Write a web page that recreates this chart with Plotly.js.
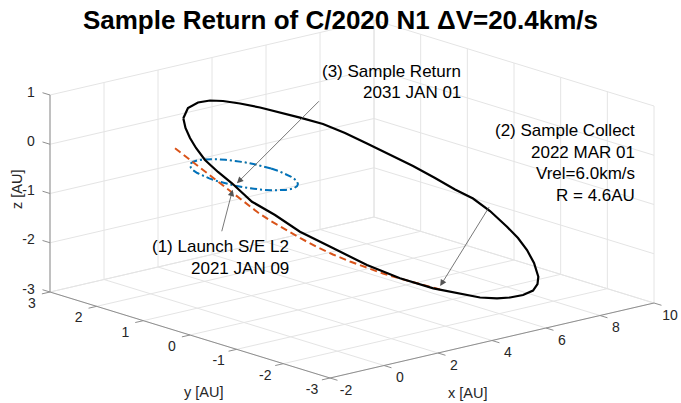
<!DOCTYPE html>
<html><head><meta charset="utf-8">
<script src="https://cdn.plot.ly/plotly-3.0.1.min.js"></script>
<style>html,body{margin:0;padding:0;background:#fff;} #chart{width:681px;height:403px;}</style>
</head><body><div id="chart"></div>
<script>
// ---------------- DATA (AU) ----------------
// Transfer orbit (black)
const transferX = [-0.096,0.604,1.319,1.960,2.527,3.182,3.903,4.585,5.241,5.989,6.565,7.069,7.573,8.100,8.534,8.901,9.295,9.478,9.509,9.476,9.319,9.023,8.573,8.191,7.680,7.013,6.303,5.674,4.939,4.227,3.249,2.206,1.333,0.590,-0.142,-0.490,-0.908,-0.950,-1.053,-1.078,-0.920,-0.721,-0.454,-0.096];
const transferY = [1.245,1.550,1.749,1.862,1.912,1.927,1.915,1.882,1.832,1.772,1.634,1.455,1.253,1.065,0.844,0.628,0.470,0.212,-0.134,-0.389,-0.673,-0.994,-1.347,-1.550,-1.750,-1.922,-2.053,-2.139,-2.200,-2.183,-2.177,-2.066,-1.864,-1.573,-1.282,-0.948,-0.697,-0.292,-0.052,0.212,0.496,0.740,0.991,1.245];
const transferZ = [0.796,0.828,0.791,0.717,0.620,0.483,0.313,0.139,-0.039,-0.246,-0.461,-0.686,-0.925,-1.161,-1.395,-1.612,-1.799,-2.001,-2.223,-2.374,-2.515,-2.648,-2.767,-2.807,-2.817,-2.773,-2.695,-2.607,-2.479,-2.309,-2.085,-1.781,-1.459,-1.111,-0.765,-0.480,-0.230,0.032,0.205,0.375,0.516,0.622,0.718,0.796];
// Comet C/2020 N1 trajectory (orange)
const cometX = [-1.889,-1.760,-1.621,-1.482,-1.362,-1.243,-1.145,-0.977,-0.720,-0.439,-0.113,0.283,0.725,1.191,1.660,2.197,2.667,3.071,3.497];
const cometY = [0.385,0.139,-0.102,-0.343,-0.552,-0.762,-0.963,-1.123,-1.295,-1.454,-1.608,-1.743,-1.852,-1.946,-2.018,-2.072,-2.121,-2.145,-2.177];
const cometZ = [0.665,0.482,0.302,0.120,-0.037,-0.194,-0.341,-0.478,-0.643,-0.805,-0.975,-1.148,-1.315,-1.478,-1.629,-1.783,-1.919,-2.025,-2.141];
// Earth orbit (1 AU, ecliptic)
const earthX = [1,0.985,0.940,0.866,0.766,0.643,0.5,0.342,0.174,0,-0.174,-0.342,-0.5,-0.643,-0.766,-0.866,-0.940,-0.985,-1,-0.985,-0.940,-0.866,-0.766,-0.643,-0.5,-0.342,-0.174,0,0.174,0.342,0.5,0.643,0.766,0.866,0.940,0.985,1];
const earthY = [0,0.174,0.342,0.5,0.643,0.766,0.866,0.940,0.985,1,0.985,0.940,0.866,0.766,0.643,0.5,0.342,0.174,0,-0.174,-0.342,-0.5,-0.643,-0.766,-0.866,-0.940,-0.985,-1,-0.985,-0.940,-0.866,-0.766,-0.643,-0.5,-0.342,-0.174,0];
const earthZ = [0,0,0,0,0,0,0,0,0,0,0,0,0,0,0,0,0,0,0,0,0,0,0,0,0,0,0,0,0,0,0,0,0,0,0,0,0];
// Event points
const launchPt = [-1.05,-0.38,0.0];
const collectPt = [3.42,-2.18,-2.13];
// Axis ranges and ticks
const xRange = [-2,10], yRange = [-3,3], zRange = [-3,1];
const xTicks = [-2,0,2,4,6,8,10];
const yTicks = [-3,-2,-1,0,1,2,3];
const zTicks = [-3,-2,-1,0,1];

// ---------------- 3D -> screen projection (MATLAB view, stretch-to-fill) ----------------
const ORIGIN = [330, 378];                 // screen px of (xmin, ymin, zmin)
const EX = [27.0, -6.25];                  // px per AU along x
const EY = [-46.667, -14.333];             // px per AU along y
const EZ = [0, -49.25];                    // px per AU along z
function P(x, y, z) {
  const dx = x - xRange[0], dy = y - yRange[0], dz = z - zRange[0];
  return [ORIGIN[0] + EX[0]*dx + EY[0]*dy + EZ[0]*dz,
          ORIGIN[1] + EX[1]*dx + EY[1]*dy + EZ[1]*dz];
}
function projLine(xs, ys, zs) {
  const u = [], v = [];
  for (let i = 0; i < xs.length; i++) { const p = P(xs[i], ys[i], zs[i]); u.push(p[0]); v.push(p[1]); }
  return {u, v};
}
function segs(list) { // list of [[x,y,z],[x,y,z]]
  const u = [], v = [];
  list.forEach(s => { const a = P(...s[0]), b = P(...s[1]); u.push(a[0], b[0], null); v.push(a[1], b[1], null); });
  return {u, v};
}

// grid on back planes: floor z=zmin, wall y=ymax, wall x=xmax
const gridList = [];
xTicks.forEach(t => { gridList.push([[t, yRange[0], zRange[0]], [t, yRange[1], zRange[0]]]);
                      gridList.push([[t, yRange[1], zRange[0]], [t, yRange[1], zRange[1]]]); });
yTicks.forEach(t => { gridList.push([[xRange[0], t, zRange[0]], [xRange[1], t, zRange[0]]]);
                      gridList.push([[xRange[1], t, zRange[0]], [xRange[1], t, zRange[1]]]); });
zTicks.forEach(t => { gridList.push([[xRange[0], yRange[1], t], [xRange[1], yRange[1], t]]);
                      gridList.push([[xRange[1], yRange[0], t], [xRange[1], yRange[1], t]]); });
const grid = segs(gridList);

// axis lines + tick marks
const axisList = [
  [[xRange[0], yRange[0], zRange[0]], [xRange[1], yRange[0], zRange[0]]],
  [[xRange[0], yRange[0], zRange[0]], [xRange[0], yRange[1], zRange[0]]],
  [[xRange[0], yRange[1], zRange[0]], [xRange[0], yRange[1], zRange[1]]]
];
xTicks.forEach(t => axisList.push([[t, yRange[0], zRange[0]], [t, yRange[0] - 0.16, zRange[0]]]));
yTicks.forEach(t => axisList.push([[xRange[0], t, zRange[0]], [xRange[0] - 0.3, t, zRange[0]]]));
zTicks.forEach(t => axisList.push([[xRange[0], yRange[1], t], [xRange[0], yRange[1] + 0.16, t]]));
const axes = segs(axisList);

// tick labels
const tl = {u:[], v:[], t:[]};
xTicks.forEach(t => { const p = P(t, yRange[0], zRange[0]); tl.u.push(p[0] + 16); tl.v.push(p[1] + 13); tl.t.push(String(t)); });
yTicks.forEach(t => { const p = P(xRange[0], t, zRange[0]); tl.u.push(p[0] - 18); tl.v.push(p[1] + 12.5); tl.t.push(String(t)); });
zTicks.forEach(t => { const p = P(xRange[0], yRange[1], t); tl.u.push(p[0] - 16.5 - 2.5*String(t).length); tl.v.push(p[1] - 2); tl.t.push(String(t)); });

const earth = projLine(earthX, earthY, earthZ);
const comet = projLine(cometX, cometY, cometZ);
const transfer = projLine(transferX, transferY, transferZ);
const L = P(...launchPt), C = P(...collectPt);

const FONT = 'Liberation Sans, Arial, Helvetica, sans-serif';
const traces = [
  {type:'scatter', mode:'lines', x:grid.u, y:grid.v, line:{color:'#e4e4e4', width:1}, hoverinfo:'skip'},
  {type:'scatter', mode:'lines', x:axes.u, y:axes.v, line:{color:'#8f8f8f', width:1}, hoverinfo:'skip'},
  {type:'scatter', mode:'text', x:tl.u, y:tl.v, text:tl.t, textposition:'middle center',
   textfont:{family:FONT, size:14, color:'#262626'}, hoverinfo:'skip'},
  {type:'scatter', mode:'lines', x:earth.u, y:earth.v, line:{color:'#EDB120', width:1.2, dash:'2px,3px'}, hoverinfo:'skip'},
  {type:'scatter', mode:'lines', x:earth.u, y:earth.v, line:{color:'#0072BD', width:2, dash:'7px,3px,2px,3px'}, hoverinfo:'skip'},
  {type:'scatter', mode:'lines', x:comet.u, y:comet.v, line:{color:'#D95319', width:2, dash:'7px,4px'}, hoverinfo:'skip'},
  {type:'scatter', mode:'lines', x:transfer.u, y:transfer.v, line:{color:'#000000', width:2.2}, hoverinfo:'skip'}
];

const arrowBase = {xref:'x', yref:'y', text:'', showarrow:true, arrowhead:2, arrowsize:1.6, arrowwidth:0.8, arrowcolor:'#555555'};
function txt(text, xr, yc, anchor, size, color, angle) {
  return {xref:'x', yref:'y', x:xr, y:yc, xanchor:anchor, yanchor:'middle', showarrow:false, text:text,
          textangle:angle || 0, font:{family:FONT, size:size, color:color}};
}
const annotations = [
  Object.assign({}, arrowBase, {x:L[0], y:L[1], ax:87, ay:-87, standoff:5}),
  Object.assign({}, arrowBase, {x:L[0], y:L[1], ax:-12, ay:46, standoff:3}),
  Object.assign({}, arrowBase, {x:C[0], y:C[1], ax:52, ay:-84, standoff:4}),
  txt('(3) Sample Return', 463, 71, 'right', 17, '#000'),
  txt('2031 JAN 01', 463, 92, 'right', 17, '#000'),
  txt('(2) Sample Collect', 637, 130, 'right', 17, '#000'),
  txt('2022 MAR 01', 637, 152, 'right', 17, '#000'),
  txt('Vrel=6.0km/s', 637, 173.5, 'right', 17, '#000'),
  txt('R = 4.6AU', 637, 195, 'right', 17, '#000'),
  txt('(1) Launch S/E L2', 291, 246, 'right', 17, '#000'),
  txt('2021 JAN 09', 291, 268, 'right', 17, '#000'),
  txt('x [AU]', 467.5, 393, 'center', 14.5, '#262626'),
  txt('y [AU]', 203.5, 391.5, 'center', 14.5, '#262626'),
  txt('z [AU]', 17, 190, 'center', 14.5, '#262626', -90)
];

const layout = {
  width:681, height:403, margin:{l:0,r:0,t:0,b:0},
  paper_bgcolor:'#ffffff', plot_bgcolor:'#ffffff', showlegend:false,
  font:{family:FONT, color:'#000'},
  title:{text:'<b>Sample Return of C/2020 N1 \u0394V=20.4km/s</b>', font:{family:FONT, size:26, color:'#000'},
         x:0.5, xanchor:'center', y:1-11/403, yanchor:'top', yref:'container'},
  xaxis:{range:[0,681], visible:false, fixedrange:true},
  yaxis:{range:[403,0], visible:false, fixedrange:true},
  annotations:annotations
};

Plotly.newPlot('chart', traces, layout, {displayModeBar:false, staticPlot:true});
</script>
</body></html>
